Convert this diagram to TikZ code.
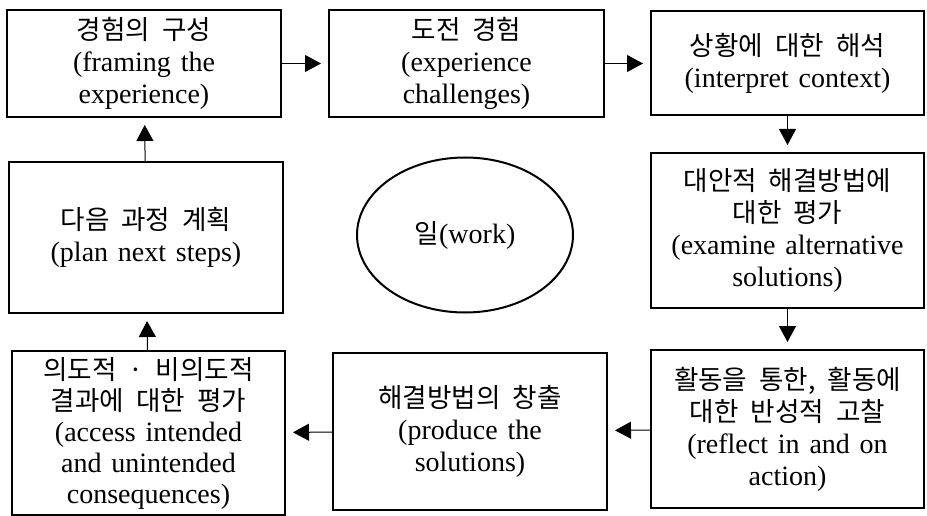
\documentclass[tikz,border=0pt]{standalone}
\usepackage{fontspec}
\setmainfont[WordSpace=1.4]{Liberation Serif}
\newfontfamily\kr[Scale=0.95,WordSpace=2]{Noto Sans CJK KR}
\usetikzlibrary{arrows.meta,shapes.geometric}

\begin{document}
\begin{tikzpicture}[x=1pt,y=-1pt,
  box/.style={draw,line width=2pt,align=center,inner sep=0pt,font=\fontsize{28}{32}\selectfont},
  flow/.style={-{Triangle[length=16pt,width=17pt]},line width=1pt,shorten >=7pt}]
\useasboundingbox (0,0) rectangle (927,516);
\node[box,minimum width=274pt,minimum height=107pt] (frame) at (144,63.5) {{\kr 경험의 구성}\\(framing the\\experience)};
\node[box,minimum width=275pt,minimum height=107pt] (challenge) at (466.5,63.5) {{\kr 도전 경험}\\(experience\\challenges)};
\node[box,minimum width=273pt,minimum height=104pt] (interpret) at (787.5,63.5) {{\kr 상황에 대한 해석}\\(interpret context)};
\node[box,minimum width=273pt,minimum height=155pt] (examine) at (787.5,230.5) {{\kr 대안적 해결방법에}\\{\kr 대한 평가}\\(examine alternative\\solutions)};
\node[box,minimum width=273pt,minimum height=158pt] (reflect) at (787.5,429) {{\kr 활동을 통한, 활동에}\\{\kr 대한 반성적 고찰}\\(reflect in and on\\action)};
\node[box,minimum width=274pt,minimum height=157pt] (produce) at (470,431.5) {{\kr 해결방법의 창출}\\(produce the\\solutions)};
\node[box,minimum width=273pt,minimum height=164pt,font=\fontsize{28}{31}\selectfont] (assess) at (148.5,433) {{\kr 의도적 · 비의도적}\\{\kr 결과에 대한 평가}\\(access intended\\and unintended\\consequences)};
\node[box,minimum width=274pt,minimum height=151pt] (plan) at (146,237.5) {{\kr 다음 과정 계획}\\(plan next steps)};
\node[box,ellipse,minimum width=216pt,minimum height=155pt] (work) at (465,235) {{\kr 일}(work)};
\draw[flow] (frame) -- (challenge);
\draw[flow] (challenge) -- (interpret);
\draw[flow] (interpret) -- (examine);
\draw[flow] (examine) -- (reflect);
\draw[flow] (reflect) -- (produce);
\draw[flow] (produce) -- (assess);
\draw[flow] (assess) -- (plan);
\draw[flow] (plan) -- (frame);
\end{tikzpicture}
\end{document}
